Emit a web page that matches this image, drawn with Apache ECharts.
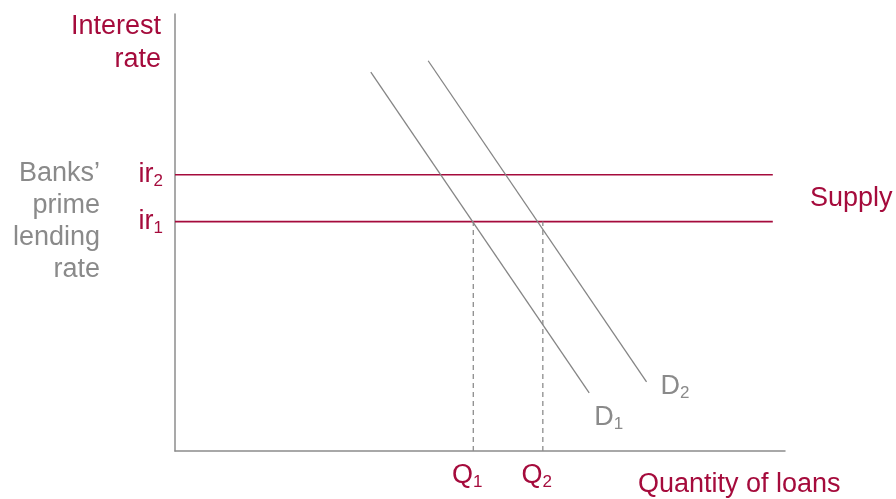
<!DOCTYPE html>
<html>
<head>
<meta charset="utf-8">
<script src="https://cdn.jsdelivr.net/npm/echarts@6/dist/echarts.min.js"></script>
<style>
  html, body { margin: 0; padding: 0; background: #fff; }
  #main { width: 896px; height: 499px; }
</style>
</head>
<body>
<div id="main"></div>
<script>
// chart data (arbitrary 0-100 units on both axes)
var demand1X = [32.1, 67.9];
var demand1Y = [86.7, 13.3];
var demand2X = [41.5, 77.3];
var demand2Y = [89.3, 15.8];
var supplyX = [0, 98];
var irValues = [52.5, 63.2];      // ir1, ir2
var irNames = ['1', '2'];
var qValues = [48.9, 60.3];       // Q1, Q2
var qNames = ['1', '2'];

var RED = '#a50b3c';
var GRAY = '#8a8a8a';
var FONT = 'Liberation Sans, Arial, sans-serif';

function pairs(xs, ys) {
  return xs.map(function (x, i) { return [x, ys[i]]; });
}

var subRich = {
  t: { fontSize: 27, fontFamily: FONT, lineHeight: 30 },
  s: { fontSize: 17, fontFamily: FONT, verticalAlign: 'bottom', lineHeight: 30 }
};

var series = [];

// supply lines at ir1 and ir2
irValues.forEach(function (ir) {
  series.push({
    type: 'line',
    data: supplyX.map(function (x) { return [x, ir]; }),
    symbol: 'none',
    lineStyle: { color: RED, width: 1.6 },
    silent: true
  });
});

// dashed drop lines to Q1 / Q2
qValues.forEach(function (q) {
  series.push({
    type: 'line',
    data: [[q, 0], [q, irValues[0]]],
    symbol: 'none',
    lineStyle: { color: '#8c8c8c', width: 1.3, type: [5, 4] },
    silent: true
  });
});

// demand curves
[[demand1X, demand1Y, '1', [-3, 25]], [demand2X, demand2Y, '2', [6, 5]]].forEach(function (d) {
  series.push({
    type: 'line',
    data: pairs(d[0], d[1]),
    symbol: 'none',
    lineStyle: { color: '#858585', width: 1.3 },
    silent: true,
    endLabel: {
      show: true,
      formatter: '{t|D}{s|' + d[2] + '}',
      color: GRAY,
      offset: d[3],
      rich: subRich
    }
  });
});

var chart = echarts.init(document.getElementById('main'));
chart.setOption({
  animation: false,
  backgroundColor: '#fff',
  grid: { left: 175, right: 111, top: 14, bottom: 48 },
  xAxis: {
    type: 'value', min: 0, max: 100,
    splitLine: { show: false },
    axisTick: { show: false },
    axisLine: { lineStyle: { color: '#8c8c8c', width: 1.5 } },
    axisLabel: {
      customValues: qValues,
      margin: 10,
      color: RED,
      padding: [0, 12, 0, 0],
      formatter: function (v) {
        return '{t|Q}{s|' + qNames[qValues.indexOf(v)] + '}';
      },
      rich: subRich
    }
  },
  yAxis: {
    type: 'value', min: 0, max: 100,
    splitLine: { show: false },
    axisTick: { show: false },
    axisLine: { show: true, lineStyle: { color: '#8c8c8c', width: 1.5 } },
    axisLabel: {
      customValues: irValues,
      margin: 12,
      color: RED,
      formatter: function (v) {
        return '{t|ir}{s|' + irNames[irValues.indexOf(v)] + '}';
      },
      rich: subRich
    }
  },
  graphic: [
    { type: 'text', x: 161, y: 10, style: { text: 'Interest\nrate', align: 'right', fill: RED, font: '27px ' + FONT, lineHeight: 33 } },
    { type: 'text', x: 100, y: 158, style: { text: 'Banks’\nprime\nlending\nrate', align: 'right', fill: GRAY, font: '27px ' + FONT, lineHeight: 32 } },
    { type: 'text', x: 810, y: 199, style: { text: 'Supply', align: 'left', verticalAlign: 'middle', fill: RED, font: '27px ' + FONT } },
    { type: 'text', x: 638, y: 485, style: { text: 'Quantity of loans', align: 'left', verticalAlign: 'middle', fill: RED, font: '27px ' + FONT } }
  ],
  series: series
});
</script>
</body>
</html>
